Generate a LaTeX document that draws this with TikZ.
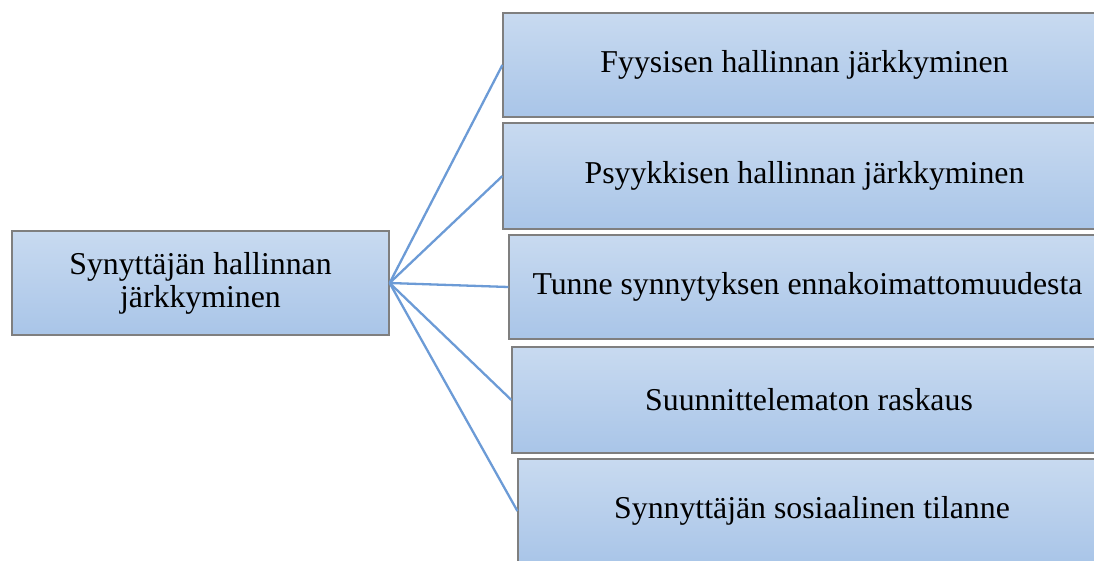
\documentclass[tikz,border=0pt]{standalone}
\usepackage{fontspec}
\setmainfont{Liberation Serif}
\definecolor{boxtop}{HTML}{C8DAF0}
\definecolor{boxbot}{HTML}{A9C5E8}
\definecolor{boxedge}{HTML}{7F7F7F}
\definecolor{linkcol}{HTML}{6C9BD6}
\begin{document}
\begin{tikzpicture}[x=1pt,y=-1pt,
  topic/.style={draw=boxedge,line width=1.2pt,top color=boxtop,bottom color=boxbot,
    minimum height=104pt,inner sep=0pt,align=center,font=\fontsize{31.8}{33}\selectfont},
  link/.style={draw=linkcol,line width=2.3pt}]
\useasboundingbox (0,0) rectangle (1094,560);
\clip (0,0) rectangle (1094,560);
% root box
\node[topic,minimum width=377pt] (root) at (200.5,283) {Synyttäjän hallinnan\\järkkyminen};
% branch boxes (right edges run past the page)
\node[topic,minimum width=603pt] (b1) at (804.5,65) {Fyysisen hallinnan järkkyminen};
\node[topic,minimum width=603pt,minimum height=106pt] (b2) at (804.5,176) {Psyykkisen hallinnan järkkyminen};
\node[topic,minimum width=597pt] (b3) at (807.5,287) {Tunne synnytyksen ennakoimattomuudesta};
\node[topic,minimum width=594pt,minimum height=106pt] (b4) at (809,400) {Suunnittelematon raskaus};
\node[topic,minimum width=588pt] (b5) at (812,511) {Synnyttäjän sosiaalinen tilanne};
% connectors
\foreach \b in {b1,b2,b3,b4,b5}
  \draw[link] (root.east) -- (\b.west);
\end{tikzpicture}
\end{document}
